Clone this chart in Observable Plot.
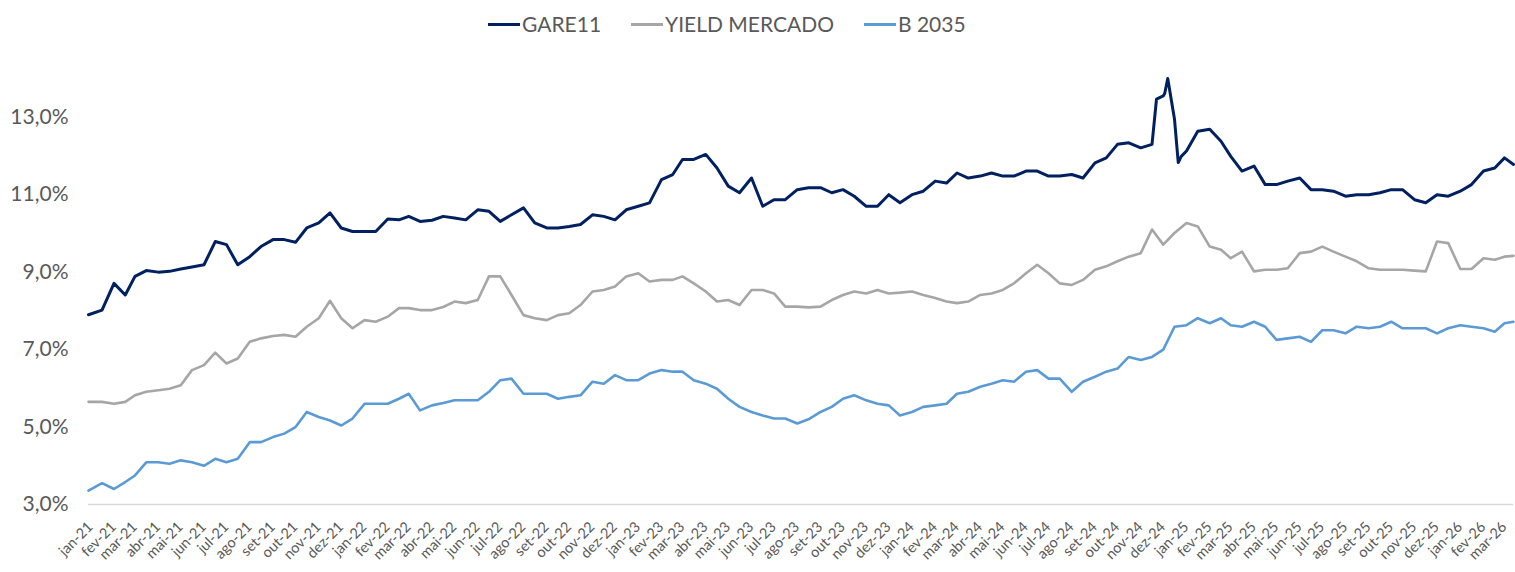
<!DOCTYPE html>
<html><head><meta charset="utf-8">
<script src="https://cdn.jsdelivr.net/npm/d3@7"></script>
<script src="https://cdn.jsdelivr.net/npm/@observablehq/plot@0.6"></script>
<style>
body{margin:0;background:#fff;font-family:Lato,sans-serif;}
#wrap{position:relative;width:1515px;height:572px;overflow:hidden;}
#legend{position:absolute;top:11px;left:488px;display:flex;align-items:center;gap:30px;font-size:21px;color:#595959;white-space:nowrap;}
.item{display:flex;align-items:center;}
.sw{width:32px;height:3px;margin-right:2px;margin-top:2px;}
#chart{position:absolute;top:50px;left:0;}
</style></head><body>
<div id="wrap"><div id="legend"></div><div id="chart"></div></div>
<script>
const seriesNames = ["GARE11", "YIELD MERCADO", "B 2035"];
const seriesColors = ["#002060", "#A6A6A6", "#5B9BD5"];
const monthNames = ["jan","fev","mar","abr","mai","jun","jul","ago","set","out","nov","dez"];
const yTicks = [3, 5, 7, 9, 11, 13];

const dates = [
"2021-01-04","2021-01-22","2021-02-07","2021-02-22","2021-03-07","2021-03-22","2021-04-07","2021-04-22","2021-05-07","2021-05-22","2021-06-07","2021-06-22",
"2021-07-07","2021-07-22","2021-08-07","2021-08-22","2021-09-07","2021-09-22","2021-10-07","2021-10-22","2021-11-07","2021-11-22","2021-12-07","2021-12-22",
"2022-01-07","2022-01-22","2022-02-07","2022-02-22","2022-03-07","2022-03-22","2022-04-07","2022-04-22","2022-05-07","2022-05-22","2022-06-07","2022-06-22",
"2022-07-07","2022-07-22","2022-08-07","2022-08-22","2022-09-07","2022-09-22","2022-10-07","2022-10-22","2022-11-07","2022-11-22","2022-12-07","2022-12-22",
"2023-01-07","2023-01-22","2023-02-07","2023-02-22","2023-03-07","2023-03-22","2023-04-07","2023-04-22","2023-05-07","2023-05-22","2023-06-07","2023-06-22",
"2023-07-07","2023-07-22","2023-08-07","2023-08-22","2023-09-07","2023-09-22","2023-10-07","2023-10-22","2023-11-07","2023-11-22","2023-12-07","2023-12-22",
"2024-01-07","2024-01-22","2024-02-07","2024-02-22","2024-03-07","2024-03-22","2024-04-07","2024-04-22","2024-05-07","2024-05-22","2024-06-07","2024-06-22",
"2024-07-07","2024-07-22","2024-08-07","2024-08-22","2024-09-07","2024-09-22","2024-10-07","2024-10-22","2024-11-07","2024-11-22","2024-12-07","2024-12-22",
"2025-01-07","2025-01-22","2025-02-07","2025-02-22","2025-03-07","2025-03-22","2025-04-07","2025-04-22","2025-05-07","2025-05-22","2025-06-07","2025-06-22",
"2025-07-07","2025-07-22","2025-08-07","2025-08-22","2025-09-07","2025-09-22","2025-10-07","2025-10-22","2025-11-07","2025-11-22","2025-12-07","2025-12-22",
"2026-01-07","2026-01-22","2026-02-07","2026-02-22","2026-03-07","2026-03-19"];

const gare11 = [
7.90,8.02,8.71,8.41,8.89,9.04,9.00,9.02,9.08,9.13,9.19,9.79,9.71,9.19,9.40,9.66,9.84,9.84,9.77,10.14,10.27,10.53,10.14,10.05,
10.05,10.05,10.37,10.35,10.44,10.31,10.34,10.44,10.40,10.35,10.61,10.57,10.31,10.48,10.66,10.27,10.14,10.14,10.18,10.23,10.48,10.44,10.35,10.61,
10.70,10.79,11.39,11.52,11.91,11.91,12.04,11.69,11.22,11.05,11.43,10.70,10.87,10.87,11.13,11.18,11.18,11.05,11.13,10.96,10.70,10.70,11.00,10.79,
11.00,11.09,11.35,11.30,11.56,11.43,11.48,11.56,11.48,11.48,11.61,11.61,11.48,11.48,11.52,11.43,11.82,11.95,12.30,12.34,12.21,12.30,13.55,12.95,
12.13,12.64,12.69,12.38,11.99,11.61,11.74,11.26,11.26,11.35,11.43,11.13,11.13,11.09,10.96,11.00,11.00,11.05,11.13,11.13,10.87,10.79,11.00,10.96,
11.09,11.26,11.61,11.69,11.95,11.78];

const gare11SpikeDates = ["2024-11-28","2024-12-09","2024-12-13","2024-12-27","2024-12-31"];
const gare11SpikeValues = [13.47, 13.62, 14.00, 11.83, 11.99];

const yieldMercado = [
5.65,5.65,5.60,5.65,5.82,5.91,5.95,5.99,6.08,6.47,6.60,6.92,6.64,6.77,7.20,7.29,7.35,7.38,7.33,7.59,7.81,8.26,7.81,7.55,
7.76,7.72,7.85,8.07,8.07,8.02,8.02,8.10,8.24,8.20,8.28,8.89,8.89,8.41,7.89,7.81,7.76,7.89,7.94,8.15,8.50,8.54,8.63,8.89,
8.97,8.76,8.80,8.80,8.89,8.71,8.50,8.24,8.28,8.15,8.54,8.54,8.45,8.11,8.11,8.09,8.11,8.28,8.41,8.50,8.45,8.54,8.45,8.47,
8.50,8.41,8.33,8.24,8.20,8.24,8.41,8.45,8.54,8.71,8.97,9.19,8.97,8.71,8.67,8.80,9.06,9.15,9.28,9.40,9.49,10.10,9.71,10.01,
10.27,10.18,9.66,9.58,9.36,9.53,9.02,9.06,9.06,9.10,9.49,9.53,9.66,9.53,9.40,9.28,9.10,9.06,9.06,9.06,9.04,9.02,9.79,9.75,
9.08,9.08,9.36,9.32,9.40,9.42];

const b2035 = [
3.36,3.55,3.40,3.58,3.75,4.09,4.09,4.05,4.14,4.09,4.00,4.18,4.09,4.18,4.61,4.61,4.74,4.83,5.00,5.39,5.26,5.17,5.04,5.22,
5.60,5.60,5.60,5.73,5.86,5.43,5.56,5.62,5.69,5.69,5.69,5.91,6.21,6.25,5.86,5.86,5.86,5.73,5.78,5.82,6.17,6.12,6.34,6.21,
6.21,6.38,6.47,6.43,6.43,6.21,6.12,5.99,5.73,5.52,5.39,5.30,5.22,5.22,5.09,5.20,5.39,5.52,5.73,5.82,5.69,5.60,5.56,5.30,
5.39,5.52,5.56,5.60,5.86,5.91,6.04,6.12,6.21,6.17,6.43,6.47,6.25,6.25,5.91,6.17,6.30,6.43,6.51,6.81,6.73,6.81,7.00,7.59,
7.63,7.81,7.68,7.81,7.63,7.59,7.72,7.59,7.25,7.29,7.33,7.20,7.50,7.50,7.42,7.59,7.55,7.59,7.72,7.55,7.55,7.55,7.42,7.55,
7.63,7.59,7.55,7.46,7.68,7.72];

const parse = d3.utcParse("%Y-%m-%d");
function rowsFor(name, ds, vs) { return ds.map((d, i) => ({date: parse(d), value: vs[i], series: name})); }
const gareRows = d3.sort(rowsFor("GARE11", dates, gare11).concat(rowsFor("GARE11", gare11SpikeDates, gare11SpikeValues)), d => d.date);
const seriesRows = [gareRows, rowsFor("YIELD MERCADO", dates, yieldMercado), rowsFor("B 2035", dates, b2035)];
const widths = [3, 2.6, 2.6];

// legend
const legend = document.getElementById("legend");
seriesNames.forEach((n, i) => {
  const it = document.createElement("div"); it.className = "item";
  const sw = document.createElement("div"); sw.className = "sw"; sw.style.background = seriesColors[i];
  const tx = document.createElement("span"); tx.textContent = n;
  it.appendChild(sw); it.appendChild(tx); legend.appendChild(it);
});

const tickStart = new Date(Date.UTC(2021, 0, 4));
const tickDates = d3.range(63).map(i => d3.utcMonth.offset(tickStart, i));

const chart = Plot.plot({
  width: 1515, height: 522,
  marginLeft: 88, marginRight: 2, marginTop: 28, marginBottom: 68,
  style: {fontFamily: "Lato, sans-serif", color: "#595959", background: "#fff", overflow: "visible"},
  x: {type: "utc", domain: [parse("2021-01-04"), parse("2026-03-19")]},
  y: {domain: [3, 14]},
  marks: [
    Plot.ruleY([3], {stroke: "#d9d9d9", strokeWidth: 1.5}),
    Plot.axisY({ticks: yTicks, tickSize: 0, tickPadding: 20, fontSize: 21, label: null,
      tickFormat: d => d.toFixed(1).replace(".", ",") + "%"}),
    Plot.axisX({ticks: tickDates, tickSize: 0, tickPadding: 20, tickRotate: -45, fontSize: 14.5, label: null, dx: 2,
      tickFormat: d => monthNames[d.getUTCMonth()] + "-" + String(d.getUTCFullYear()).slice(2)}),
    ...seriesRows.map((rows, i) => Plot.line(rows, {x: "date", y: "value", stroke: seriesColors[i], strokeWidth: widths[i], strokeLinejoin: "round"}))
  ]
});
document.getElementById("chart").appendChild(chart);
</script>
</body></html>
